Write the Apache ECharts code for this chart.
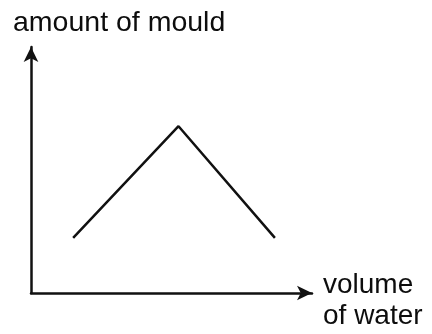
<!DOCTYPE html>
<html>
<head>
<meta charset="utf-8">
<script src="https://cdn.jsdelivr.net/npm/echarts@6/dist/echarts.min.js"></script>
<style>html,body{margin:0;padding:0;background:#fff}#c{width:432px;height:334px}</style>
</head>
<body>
<div id="c"></div>
<script>
const xValues = [1.5, 5.25, 8.68];
const yValues = [2.24, 6.78, 2.24];
const yAxisTitle = 'amount of mould';
const xAxisTitle = 'volume\nof water';

const chart = echarts.init(document.getElementById('c'), null, {renderer: 'canvas'});
const font = '"Liberation Sans", Arial, sans-serif';
chart.setOption({
  animation: false,
  backgroundColor: '#fff',
  title: [
    {text: yAxisTitle, left: 13, top: 9, padding: 0,
     textStyle: {fontFamily: font, fontSize: 28.5, fontWeight: 'normal', color: '#0d0d0d'}},
    {text: xAxisTitle, left: 323, top: 270, padding: 0,
     textStyle: {fontFamily: font, fontSize: 28, fontWeight: 'normal', color: '#0d0d0d', lineHeight: 31}}
  ],
  grid: {left: 31, right: 120, top: 47, bottom: 41},
  xAxis: {
    type: 'value', min: 0, max: 10,
    axisLine: {show: true, symbol: ['none', 'arrow'], symbolSize: [11, 15],
      lineStyle: {color: '#111', width: 2.5}},
    axisTick: {show: false}, axisLabel: {show: false}, splitLine: {show: false}
  },
  yAxis: {
    type: 'value', min: 0, max: 10,
    axisLine: {show: true, symbol: ['none', 'arrow'], symbolSize: [11, 15],
      lineStyle: {color: '#111', width: 2.5}},
    axisTick: {show: false}, axisLabel: {show: false}, splitLine: {show: false}
  },
  series: [{
    type: 'line',
    data: xValues.map((x, i) => [x, yValues[i]]),
    symbol: 'none',
    lineStyle: {color: '#111', width: 2.5},
    silent: true
  }]
});
</script>
</body>
</html>
